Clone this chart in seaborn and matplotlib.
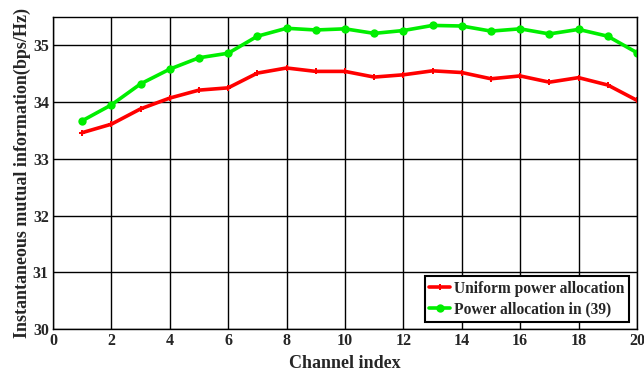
import numpy as np
import pandas as pd
import matplotlib
matplotlib.use("Agg")
import matplotlib.pyplot as plt
import seaborn as sns

channels = list(range(1, 21))
uniform = [33.46, 33.61, 33.88, 34.07, 34.21, 34.25, 34.51, 34.60, 34.54, 34.54,
           34.44, 34.48, 34.55, 34.52, 34.41, 34.46, 34.35, 34.43, 34.30, 34.03]
proposed = [33.67, 33.95, 34.32, 34.58, 34.78, 34.86, 35.16, 35.30, 35.27, 35.29,
            35.21, 35.26, 35.35, 35.34, 35.25, 35.29, 35.20, 35.28, 35.16, 34.87]
series_names = ["Uniform power allocation", "Power allocation in (39)"]
x_ticks = [0, 2, 4, 6, 8, 10, 12, 14, 16, 18, 20]
y_ticks = [30, 31, 32, 33, 34, 35]

df = pd.DataFrame({
    "Channel": channels * 2,
    "Value": uniform + proposed,
    "Series": [series_names[0]] * len(channels) + [series_names[1]] * len(channels),
})

sns.set_style("white")
plt.rcParams["font.family"] = ["Liberation Serif", "DejaVu Serif"]
plt.rcParams["font.weight"] = "bold"

fig = plt.figure(figsize=(6.44, 3.76), dpi=100)
ax = fig.add_axes([0.0823, 0.125, 0.9067, 0.83])

sns.lineplot(data=df, x="Channel", y="Value", hue="Series", style="Series",
             palette={series_names[0]: "#ff0000", series_names[1]: "#00ee00"},
             markers={series_names[0]: "P", series_names[1]: "o"},
             dashes=False, linewidth=2.6, markersize=6, markeredgewidth=0,
             ax=ax)
for line in ax.get_lines():
    if line.get_color() == "#ff0000":
        line.set_markersize(5)

ax.set_xlim(0, 20)
ax.set_ylim(30, 35.5)
ax.set_xticks(x_ticks)
ax.set_yticks(y_ticks)
ax.grid(True, color="black", linewidth=1.0)
for s in ax.spines.values():
    s.set_color("black")
    s.set_linewidth(1.0)
ax.tick_params(direction="in", length=3, labelsize=11.5, pad=3)
for lab in ax.get_xticklabels() + ax.get_yticklabels():
    lab.set_fontweight("bold")
ax.set_xlabel("Channel index", fontsize=13, fontweight="bold", labelpad=4)
ax.set_ylabel("Instantaneous mutual information(bps/Hz)", fontsize=13, fontweight="bold", labelpad=1)

leg = ax.legend(loc="lower right", bbox_to_anchor=(0.987, 0.022), borderaxespad=0,
                frameon=True, fancybox=False, edgecolor="black", framealpha=1,
                handlelength=1.3, borderpad=0.3, labelspacing=0.3, handletextpad=0.3,
                prop={"weight": "bold", "size": 11.2})
leg.get_frame().set_linewidth(1.5)

fig.savefig("out.png", dpi=100)
